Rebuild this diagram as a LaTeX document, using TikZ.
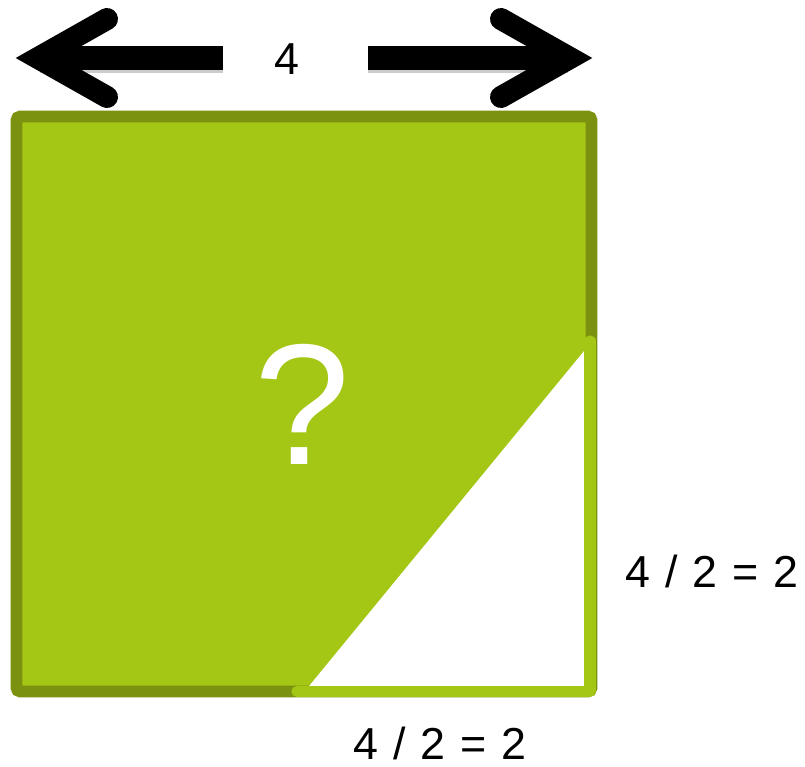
\documentclass[tikz,border=0pt]{standalone}
\usepackage{fontspec}
\setmainfont{Liberation Sans}
\definecolor{leafgreen}{RGB}{164,199,22}
\definecolor{darkleaf}{RGB}{122,146,15}
\newcommand\labelfont{\fontsize{25.5}{30}\selectfont\spaceskip=0.33em\relax}
\tikzset{
  shaft/.style={line width=13.1pt, line cap=butt},
  chevron/.style={line width=12.5pt, line cap=round, line join=miter},
  label/.style={anchor=base, inner sep=0pt, font=\labelfont},
}
\begin{document}
\begin{tikzpicture}[x=0.02cm, y=-0.02cm]
                \useasboundingbox (0,0) rectangle (805,767);
                % Square
                \draw[darkleaf, fill=leafgreen, line width=6.6pt, rounded corners=2pt] (16.5,116.5) rectangle (591.5,691.5);
                
                % White triangle
                \fill[white] (305,691) -- (589,691) -- (589,345) -- cycle;
                \draw[leafgreen, line width=6.4pt, line cap=round, line join=round] (297,691.5) -- (590,691.5) -- (590,341);
                
                % Arrows
                \foreach \s/\e/\v/\a in {223/40/38/107, 368/568/570/501} {
                    \draw[black, opacity=0.2, shaft] (\s,61) -- (\e,61);
                    \draw[black, shaft] (\s,58) -- (\e,58);
                    \draw[black, chevron] (\a,19) -- (\v,58) -- (\a,97);
                }
                
                % Labels
                \node[label] (width) at (286.5,75) {4};
                \node[label] (side) at (712,587) {4 / 2 = 2};
                \node[label] (base) at (440,759) {4 / 2 = 2};
                \node[white, font=\fontsize{98}{100}\selectfont] (unknown) at (302,404) {?};
            \end{tikzpicture}
\end{document}
